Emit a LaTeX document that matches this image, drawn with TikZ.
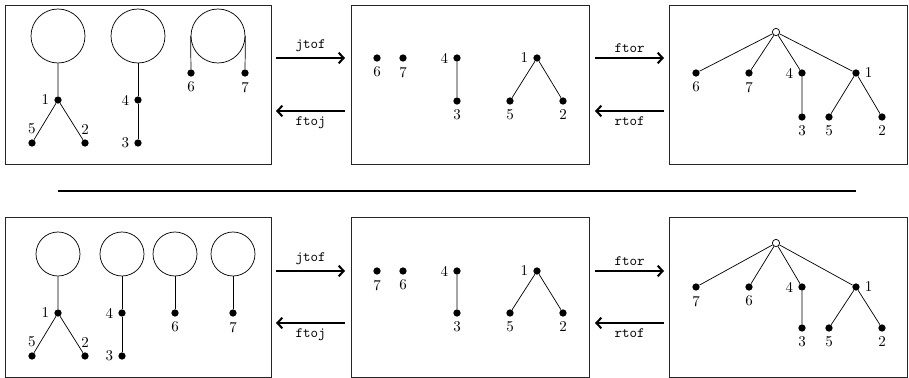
\documentclass[tikz,border=0pt]{standalone}
\usepackage{tikz}
\usetikzlibrary{arrows.meta}
\tikzset{
  panelbox/.style  = {draw=black!85, line width=0.5pt},
  jellyhead/.style = {circle, draw=black, line width=0.5pt, inner sep=0pt,
                      minimum size=37.8pt},
  jellysmall/.style= {jellyhead, minimum size=30.8pt},
  treedot/.style   = {circle, fill=black, inner sep=0pt, minimum size=5.1pt,
                      label distance=1.8pt},
  treeroot/.style  = {circle, fill=white, draw=black, line width=0.5pt,
                      inner sep=0pt, minimum size=5.1pt},
  treeedge/.style  = {draw=black, line width=0.5pt},
  convarrow/.style = {line width=1.4pt, -{Straight Barb[length=3.5pt, width=7.5pt]}},
  convlabel/.style = {font=\ttfamily},
  every label/.style = {font=\fontsize{10.5}{12}\selectfont},
}

\begin{document}
\begin{tikzpicture}[x=0.7pt, y=-0.7pt]
  \useasboundingbox (0,0) rectangle (909,378);

  % top row: panels
  \draw[panelbox] (5,5) rectangle (271,164);
  \draw[panelbox] (351,5) rectangle (589,164);
  \draw[panelbox] (669,5) rectangle (907.5,164);

  % top left: jellyfish
  \node[jellyhead] (ja) at (58,36) {};
  \node[jellyhead] (jb) at (138,36) {};
  \node[jellyhead] (jc) at (218,36) {};
  \node[treedot, label=left:1] (a1) at (58,100) {};
  \node[treedot, label=above:5] (a5) at (32,143) {};
  \node[treedot, label=above:2] (a2) at (85,143) {};
  \node[treedot, label=left:4] (a4) at (138,100) {};
  \node[treedot, label=left:3] (a3) at (138,143) {};
  \node[treedot, label=below:6] (a6) at (191,73) {};
  \node[treedot, label=below:7] (a7) at (245,73) {};
  \draw[treeedge] (ja.south) -- (a1) (a5) -- (a1) -- (a2);
  \draw[treeedge] (jb.south) -- (a4) -- (a3);
  \draw[treeedge] (jc.west) -- (a6) (jc.east) -- (a7);

  % top middle: forest
  \node[treedot, label=below:6] (b6) at (377,58) {};
  \node[treedot, label=below:7] (b7) at (403,58) {};
  \node[treedot, label=left:4] (b4) at (457,58) {};
  \node[treedot, label=below:3] (b3) at (457,101) {};
  \node[treedot, label=left:1] (b1) at (537,58) {};
  \node[treedot, label=below:5] (b5) at (510,101) {};
  \node[treedot, label=below:2] (b2) at (563,101) {};
  \draw[treeedge] (b4) -- (b3) (b5) -- (b1) -- (b2);

  % top right: rooted tree
  \node[treeroot] (r0) at (776,32) {};
  \node[treedot, label=below:6] (c6) at (696,73) {};
  \node[treedot, label=below:7] (c7) at (749,73) {};
  \node[treedot, label=left:4] (c4) at (802,73) {};
  \node[treedot, label=right:1] (c1) at (856,73) {};
  \node[treedot, label=below:3] (c3) at (802,117) {};
  \node[treedot, label=below:5] (c5) at (829,117) {};
  \node[treedot, label=below:2] (c2) at (882,117) {};
  \draw[treeedge] (r0) -- (c6) (r0) -- (c7) (r0) -- (c4) (r0) -- (c1);
  \draw[treeedge] (c4) -- (c3) (c5) -- (c1) -- (c2);

  % top row: conversions
  \coordinate (jl) at (276,58);  \coordinate (jr) at (345,58);
  \coordinate (fl) at (276,111); \coordinate (fr) at (345,111);
  \coordinate (rl) at (595,58);  \coordinate (rr) at (664,58);
  \coordinate (tl) at (595,111); \coordinate (tr) at (664,111);
  \draw[convarrow] (jl) -- node[above, convlabel] {jtof} (jr);
  \draw[convarrow] (fr) -- node[below, convlabel] {ftoj} (fl);
  \draw[convarrow] (rl) -- node[above, convlabel] {ftor} (rr);
  \draw[convarrow] (tr) -- node[below, convlabel] {rtof} (tl);

  % separator
  \coordinate (sl) at (58,191);
  \coordinate (sr) at (856,191);
  \draw[line width=1.4pt] (sl) -- (sr);

  % bottom row: panels
  \draw[panelbox] (5,217) rectangle (271,377);
  \draw[panelbox] (351,217) rectangle (589,377);
  \draw[panelbox] (669,217) rectangle (907.5,377);

  % bottom left: jellyfish
  \node[jellysmall] (ka) at (58,254) {};
  \node[jellysmall] (kb) at (122,254) {};
  \node[jellysmall] (kc) at (175,254) {};
  \node[jellysmall] (kd) at (233,254) {};
  \node[treedot, label=left:1] (d1) at (58,313) {};
  \node[treedot, label=above:5] (d5) at (32,356) {};
  \node[treedot, label=above:2] (d2) at (85,356) {};
  \node[treedot, label=left:4] (d4) at (122,313) {};
  \node[treedot, label=left:3] (d3) at (122,356) {};
  \node[treedot, label=below:6] (d6) at (175,313) {};
  \node[treedot, label=below:7] (d7) at (233,313) {};
  \draw[treeedge] (ka.south) -- (d1) (d5) -- (d1) -- (d2);
  \draw[treeedge] (kb.south) -- (d4) -- (d3);
  \draw[treeedge] (kc.south) -- (d6) (kd.south) -- (d7);

  % bottom middle: forest
  \node[treedot, label=below:7] (e7) at (377,271) {};
  \node[treedot, label=below:6] (e6) at (403,271) {};
  \node[treedot, label=left:4] (e4) at (457,271) {};
  \node[treedot, label=below:3] (e3) at (457,313) {};
  \node[treedot, label=left:1] (e1) at (537,271) {};
  \node[treedot, label=below:5] (e5) at (510,313) {};
  \node[treedot, label=below:2] (e2) at (563,313) {};
  \draw[treeedge] (e4) -- (e3) (e5) -- (e1) -- (e2);

  % bottom right: rooted tree
  \node[treeroot] (s0) at (776,243) {};
  \node[treedot, label=below:7] (f7) at (696,287) {};
  \node[treedot, label=below:6] (f6) at (749,287) {};
  \node[treedot, label=left:4] (f4) at (802,287) {};
  \node[treedot, label=right:1] (f1) at (856,287) {};
  \node[treedot, label=below:3] (f3) at (802,328) {};
  \node[treedot, label=below:5] (f5) at (829,328) {};
  \node[treedot, label=below:2] (f2) at (882,328) {};
  \draw[treeedge] (s0) -- (f7) (s0) -- (f6) (s0) -- (f4) (s0) -- (f1);
  \draw[treeedge] (f4) -- (f3) (f5) -- (f1) -- (f2);

  % bottom row: conversions
  \coordinate (jl2) at (276,271); \coordinate (jr2) at (345,271);
  \coordinate (fl2) at (276,323); \coordinate (fr2) at (345,323);
  \coordinate (rl2) at (595,271); \coordinate (rr2) at (664,271);
  \coordinate (tl2) at (595,323); \coordinate (tr2) at (664,323);
  \draw[convarrow] (jl2) -- node[above, convlabel] {jtof} (jr2);
  \draw[convarrow] (fr2) -- node[below, convlabel] {ftoj} (fl2);
  \draw[convarrow] (rl2) -- node[above, convlabel] {ftor} (rr2);
  \draw[convarrow] (tr2) -- node[below, convlabel] {rtof} (tl2);
\end{tikzpicture}
\end{document}
